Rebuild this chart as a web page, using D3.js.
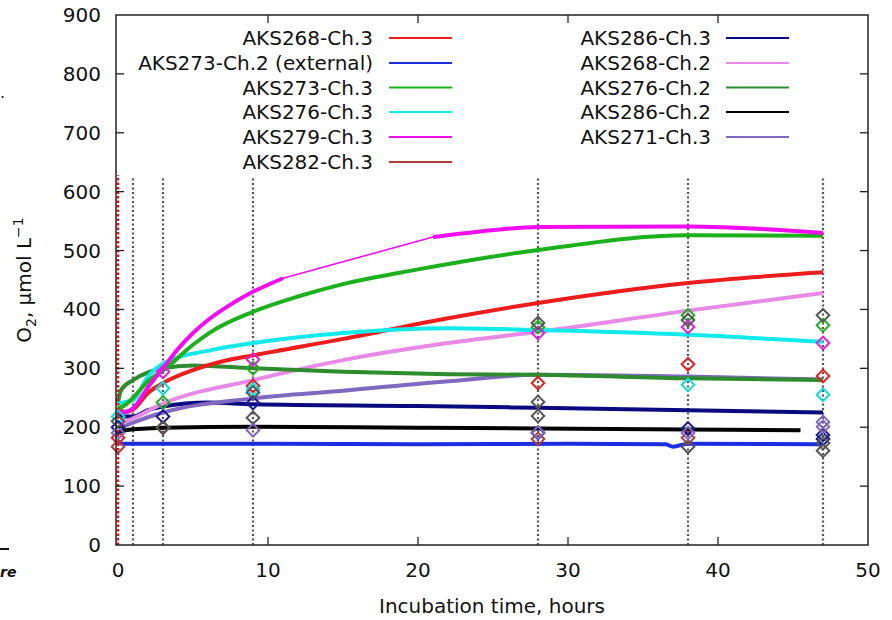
<!DOCTYPE html>
<html lang="en">
<head>
<meta charset="utf-8">
<title>O2 incubation</title>
<script src="https://cdn.jsdelivr.net/npm/d3@7/dist/d3.min.js"></script>
<style>
  body { margin: 0; background: #fff; }
  text { font-family: "DejaVu Sans", sans-serif; fill: #111; }
</style>
</head>
<body>
<svg id="chart" width="892" height="620"></svg>
<script>
// series names, colours and legend column
var seriesNames = ["AKS268-Ch.3", "AKS273-Ch.2 (external)", "AKS273-Ch.3", "AKS276-Ch.3", "AKS279-Ch.3", "AKS282-Ch.3",
                   "AKS286-Ch.3", "AKS268-Ch.2", "AKS276-Ch.2", "AKS286-Ch.2", "AKS271-Ch.3"];
var seriesColors = ["#ee1c1c", "#1c2ce0", "#1cb01c", "#10eaea", "#f20cf2", "#b43c3c",
                    "#0a0a80", "#e68ae6", "#2e8b2e", "#000000", "#8068c0"];

// sensor curves: [hours, O2 umol/L]; null marks a gap in the record
var c268_3 = [[0,230],[0.5,226],[1,230],[2,258],[3,275],[5,297],[7,312],[9,322],[15,350],[22,385],[28,411],[38,445],[47,463]];
var c273_2 = [[0,176],[0.3,172],[10,172],[20,171],[30,172],[36.5,171],[37,167],[38,172],[47,171]];
var c273_3 = [[0,232],[0.5,238],[1,250],[2,278],[3,296],[5,340],[6.2,362],[9,396],[12,422],[15,443],[20,468],[28,501],[38,526],[47,525]];
var c276_3 = [[0,240],[0.5,243],[1,246],[2,286],[3,308],[6.2,331],[9,343],[15,360],[22,368],[28,365],[38,357],[47,345]];
var c279_3 = [[0,225],[0.5,226],[1,232],[2,268],[3,300],[4,333],[5,360],[6,382],[7,400],[8,416],[9,430],[10,442],[11,453],[16,null],
              [21,523],[24,532],[28,540],[38,541],[47,530]];
var c282_3 = [];
var c286_3 = [[0,224],[0.5,218],[1,218],[2,229],[3,235],[6,242],[9,239],[20,236],[28,233],[38,229],[47,225]];
var c268_2 = [[0,205],[1,215],[3,240],[9,280],[15,314],[22,343],[28,362],[38,398],[47,428]];
var c276_2 = [[0,242],[0.2,263],[1,280],[2,293],[3,300],[5,305],[9,300],[15,294],[22,290],[28,289],[38,283],[47,280]];
var c286_2 = [[0,190],[0.5,195],[3,199],[9,201],[20,199],[28,198],[38,196],[45.5,195]];
var c271_3 = [[0,198],[1,208],[3,225],[9,249],[15,262],[22,278],[28,289],[38,286],[47,281]];
var curves = [c268_3, c273_2, c273_3, c276_3, c279_3, c282_3, c286_3, c268_2, c276_2, c286_2, c271_3];

// discrete samples (diamonds) at sampling times, null = no sample
var sampleTimes = [0, 3, 9, 28, 38, 47];
var sampleGroups = [
  {s: 0, c: "#e02020", v: [182, null, 270, 275, 307, 287]},
  {s: 2, c: "#20b020", v: [null, 242, 300, 370, 390, 373]},
  {s: 3, c: "#10dada", v: [218, 266, 264, null, 272, 255]},
  {s: 4, c: "#e020e0", v: [null, 294, 315, 360, 370, 343]},
  {s: 5, c: "#b43c3c", v: [167, 199, null, 180, 182, null]},
  {s: 6, c: "#1a1a90", v: [200, 218, 241, 190, 198, 187]},
  {s: 6, c: "#1a1a90", v: [null, null, null, null, null, 180]},
  {s: 9, c: "#555555", v: [210, 199, 259, 377, 382, 390]},
  {s: 9, c: "#555555", v: [null, null, 216, 243, 167, 160]},
  {s: 9, c: "#555555", v: [null, null, null, 219, null, 173]},
  {s: 10, c: "#8068c0", v: [190, null, 195, 191, 190, 209]},
  {s: 10, c: "#8068c0", v: [null, null, null, null, null, 201]}
];

// sampling event lines
var eventTimes = [1, 3, 9, 28, 38, 47];
var xTicks = [0, 10, 20, 30, 40, 50];
var yTicks = [0, 100, 200, 300, 400, 500, 600, 700, 800, 900];

var pLeft = 116, pRight = 868, pTop = 15, pBottom = 545;
var svg = d3.select("#chart");
var x = d3.scaleLinear().domain([0, 50]).range([pLeft + 2, pRight]);
var y = d3.scaleLinear().domain([0, 900]).range([pBottom, pTop]);

svg.append("clipPath").attr("id", "clip")
  .append("rect").attr("x", pLeft).attr("y", pTop).attr("width", pRight - pLeft).attr("height", pBottom - pTop);

// event lines
svg.selectAll(".ev").data(eventTimes).enter().append("line")
  .attr("x1", function(d) { return x(d); }).attr("x2", function(d) { return x(d); })
  .attr("y1", y(0)).attr("y2", y(625))
  .attr("stroke", "#555").attr("stroke-width", 2.2).attr("stroke-dasharray", "2,2.5");

// curves
var line = d3.line().defined(function(d) { return d[1] !== null; })
  .x(function(d) { return x(d[0]); }).y(function(d) { return y(d[1]); })
  .curve(d3.curveMonotoneX);
var bridge = d3.line().x(function(d) { return x(d[0]); }).y(function(d) { return y(d[1]); });
var drawOrder = [1, 9, 6, 10, 7, 8, 0, 3, 2, 4];
drawOrder.forEach(function(i) {
  if (curves[i].length === 0) return;
  var pts = curves[i].filter(function(d) { return d[1] !== null; });
  if (pts.length < curves[i].length) {
    // plotting program joins across the gap with a thin straight line
    svg.append("path").datum(pts).attr("d", bridge).attr("fill", "none")
      .attr("stroke", seriesColors[i]).attr("stroke-width", 1.6).attr("clip-path", "url(#clip)");
  }
  svg.append("path").datum(curves[i])
    .attr("d", line)
    .attr("fill", "none")
    .attr("stroke", seriesColors[i])
    .attr("stroke-width", 4)
    .attr("clip-path", "url(#clip)");
});

// start of incubation
svg.append("line")
  .attr("x1", x(0)).attr("x2", x(0)).attr("y1", y(0)).attr("y2", y(628))
  .attr("stroke", "#e81010").attr("stroke-width", 2.5).attr("stroke-dasharray", "2.5,2");

// diamonds
var diamond = d3.symbol().type(d3.symbolSquare).size(80);
sampleGroups.forEach(function(g) {
  g.v.forEach(function(val, k) {
    if (val === null) return;
    svg.append("path")
      .attr("d", diamond)
      .attr("transform", "translate(" + x(sampleTimes[k]) + "," + y(val) + ") rotate(45)")
      .attr("fill", "none")
      .attr("stroke", g.c)
      .attr("stroke-width", 2);
  });
});

// frame
svg.append("rect").attr("x", pLeft).attr("y", pTop).attr("width", pRight - pLeft).attr("height", pBottom - pTop)
  .attr("fill", "none").attr("stroke", "#222").attr("stroke-width", 1.5);

// ticks (inside, mirrored)
var tl = 8;
svg.selectAll(".ytl").data(yTicks.slice(1, -1)).enter().append("line")
  .attr("x1", pLeft).attr("x2", pLeft + tl)
  .attr("y1", function(d) { return y(d); }).attr("y2", function(d) { return y(d); })
  .attr("stroke", "#222").attr("stroke-width", 1.3);
svg.selectAll(".ytr").data(yTicks.slice(1, -1)).enter().append("line")
  .attr("x1", pRight).attr("x2", pRight - tl)
  .attr("y1", function(d) { return y(d); }).attr("y2", function(d) { return y(d); })
  .attr("stroke", "#222").attr("stroke-width", 1.3);
svg.selectAll(".xtb").data(xTicks.slice(1, -1)).enter().append("line")
  .attr("x1", function(d) { return x(d); }).attr("x2", function(d) { return x(d); })
  .attr("y1", pBottom).attr("y2", pBottom - tl)
  .attr("stroke", "#222").attr("stroke-width", 1.3);
svg.selectAll(".xtt").data(xTicks.slice(1, -1)).enter().append("line")
  .attr("x1", function(d) { return x(d); }).attr("x2", function(d) { return x(d); })
  .attr("y1", pTop).attr("y2", pTop + tl)
  .attr("stroke", "#222").attr("stroke-width", 1.3);

// tick labels
svg.selectAll(".yl").data(yTicks).enter().append("text")
  .attr("x", 101).attr("y", function(d) { return y(d) + 7; })
  .attr("text-anchor", "end").attr("font-size", 20)
  .text(function(d) { return d; });
svg.selectAll(".xl").data(xTicks).enter().append("text")
  .attr("x", function(d) { return x(d); }).attr("y", 577)
  .attr("text-anchor", "middle").attr("font-size", 20)
  .text(function(d) { return d; });

// axis titles
svg.append("text").attr("x", 492).attr("y", 613).attr("text-anchor", "middle")
  .attr("font-size", 20).text("Incubation time, hours");
var yt = svg.append("text").attr("transform", "translate(31,280) rotate(-90)")
  .attr("text-anchor", "middle").attr("font-size", 20);
yt.append("tspan").text("O");
yt.append("tspan").attr("font-size", 14).attr("dy", 5).text("2");
yt.append("tspan").attr("dy", -5).text(", \u03bcmol L");
yt.append("tspan").attr("font-size", 14).attr("dy", -8).text("\u22121");

// legend
var rowY = [38, 63, 87.5, 112, 137, 162];
seriesNames.forEach(function(name, i) {
  var col = i < 6 ? 0 : 1;
  var r = col === 0 ? i : i - 6;
  var tx = col === 0 ? 373 : 711;
  var lx = col === 0 ? 389 : 726;
  svg.append("text").attr("x", tx).attr("y", rowY[r] + 7).attr("text-anchor", "end")
    .attr("font-size", 20).text(name);
  svg.append("line").attr("x1", lx).attr("x2", lx + 63).attr("y1", rowY[r]).attr("y2", rowY[r])
    .attr("stroke", seriesColors[i]).attr("stroke-width", 2.2);
});

// cropped fragments of the neighbouring panel
svg.append("text").attr("x", 0).attr("y", 98).attr("font-size", 16).text(".");
svg.append("text").attr("x", 0).attr("y", 577).attr("font-size", 14)
  .attr("font-weight", "bold").attr("font-style", "italic").text("re");
svg.append("line").attr("x1", 0).attr("x2", 9).attr("y1", 549).attr("y2", 549)
  .attr("stroke", "#111").attr("stroke-width", 2);
</script>
</body>
</html>
